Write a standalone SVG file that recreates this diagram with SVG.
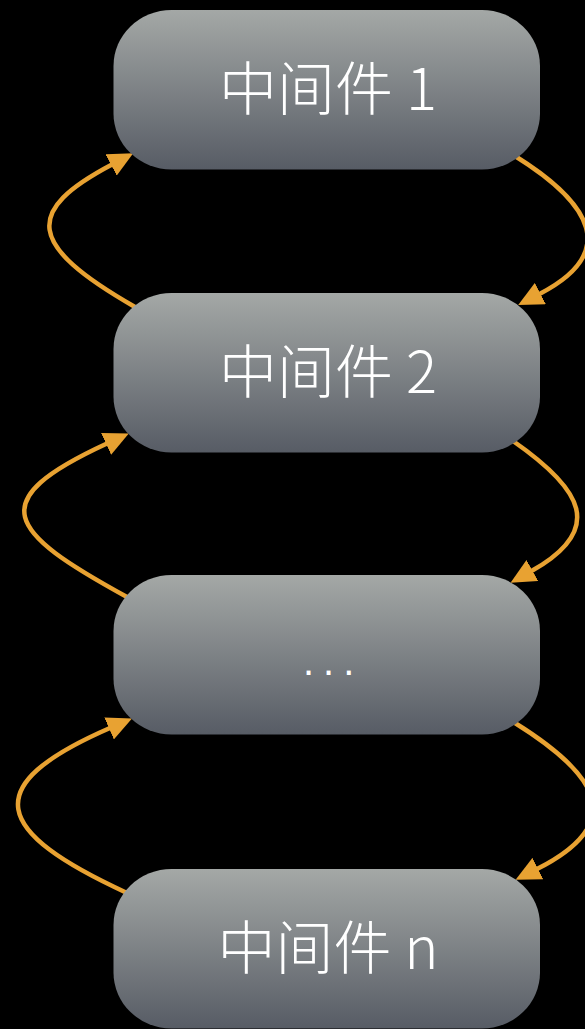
<svg xmlns="http://www.w3.org/2000/svg" width="585" height="1029" viewBox="0 0 585 1029">
<style>
.node{fill:url(#g);}
.lbl{fill:#ffffff;font-family:"Noto Sans CJK SC","Liberation Sans",sans-serif;font-size:58px;font-weight:300;text-anchor:middle;}
.dots{fill:#ffffff;font-family:"Liberation Sans",sans-serif;font-size:40px;letter-spacing:9px;}
.edge{fill:none;stroke:#E8A232;stroke-width:4.5;marker-end:url(#ah);}
</style>
<defs>
<linearGradient id="g" x1="0" y1="0" x2="0" y2="1">
<stop offset="0" stop-color="#a4a8a6"/>
<stop offset="1" stop-color="#575c65"/>
</linearGradient>
<marker id="ah" markerUnits="userSpaceOnUse" viewBox="0 -12 25 24" markerWidth="25" markerHeight="24" refX="1" refY="0" orient="auto">
<path d="M0,-12 L25,0 L0,12 Z" fill="#E8A232"/>
</marker>
</defs>
<rect width="585" height="1029" fill="#000"/>
<g id="connectors">
<path class="edge" d="M135,307 C26,244.5 24,211 112,164.5"/>
<path class="edge" d="M515,156 C591.5,203.7 619.6,252.6 539.5,294"/>
<path class="edge" d="M127,597 C6.4,531 -17.7,501 107,443.5"/>
<path class="edge" d="M513,441 C582.7,489.5 605.5,529.4 531.5,571"/>
<path class="edge" d="M127,893 C-6,831.7 -24,786.4 110,728"/>
<path class="edge" d="M515,723 C600.9,776.5 626.9,823.5 537,869"/>
</g>
<g id="node1">
<rect class="node" x="113.5" y="10" width="426.5" height="159.5" rx="58" ry="56"/>
<text class="lbl" x="328" y="110">中间件 1</text>
</g>
<g id="node2">
<rect class="node" x="113.5" y="293" width="426.5" height="159.5" rx="58" ry="56"/>
<text class="lbl" x="328" y="393">中间件 2</text>
</g>
<g id="node3">
<rect class="node" x="113.5" y="575" width="426.5" height="159.5" rx="58" ry="56"/>
<text class="dots" x="303" y="675">...</text>
</g>
<g id="node4">
<rect class="node" x="113.5" y="869" width="426.5" height="159.5" rx="58" ry="56"/>
<text class="lbl" x="328" y="969">中间件 n</text>
</g>
</svg>
